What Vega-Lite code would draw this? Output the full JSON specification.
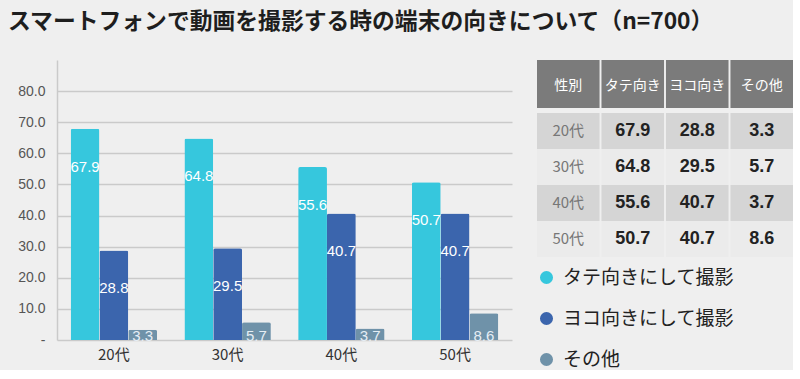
{
  "$schema": "https://vega.github.io/schema/vega-lite/v6.json",
  "background": "#efefef",
  "padding": {"left": 8, "top": 11, "right": 0, "bottom": 0},
  "config": {"view": {"stroke": null}, "font": "Noto Sans CJK JP"},
  "title": {
    "text": "スマートフォンで動画を撮影する時の端末の向きについて（n=700）",
    "fontSize": 22.8,
    "font": "Noto Sans CJK JP",
    "fontWeight": "bold",
    "color": "#1e1e1e",
    "anchor": "start",
    "baseline": "top",
    "offset": 26
  },
  "datasets": {
    "main": [
      {"age": "20代", "series": "タテ向きにして撮影", "short": "タテ向き", "value": 67.9},
      {"age": "20代", "series": "ヨコ向きにして撮影", "short": "ヨコ向き", "value": 28.8},
      {"age": "20代", "series": "その他", "short": "その他", "value": 3.3},
      {"age": "30代", "series": "タテ向きにして撮影", "short": "タテ向き", "value": 64.8},
      {"age": "30代", "series": "ヨコ向きにして撮影", "short": "ヨコ向き", "value": 29.5},
      {"age": "30代", "series": "その他", "short": "その他", "value": 5.7},
      {"age": "40代", "series": "タテ向きにして撮影", "short": "タテ向き", "value": 55.6},
      {"age": "40代", "series": "ヨコ向きにして撮影", "short": "ヨコ向き", "value": 40.7},
      {"age": "40代", "series": "その他", "short": "その他", "value": 3.7},
      {"age": "50代", "series": "タテ向きにして撮影", "short": "タテ向き", "value": 50.7},
      {"age": "50代", "series": "ヨコ向きにして撮影", "short": "ヨコ向き", "value": 40.7},
      {"age": "50代", "series": "その他", "short": "その他", "value": 8.6}
    ]
  },
  "resolve": {"scale": {"color": "independent"}, "legend": {"color": "independent"}},
  "spacing": 25,
  "hconcat": [
    {
      "width": 455,
      "height": 280,
      "data": {"name": "main"},
      "encoding": {
        "x": {"field": "age", "type": "nominal", "sort": null, "title": null,
              "scale": {"paddingInner": 0.24, "paddingOuter": 0.12},
              "axis": {"domain": false, "ticks": false, "labelAngle": 0, "labelPadding": 7, "labelFontSize": 15, "labelColor": "#333", "labelFont": "Noto Sans CJK JP", "zindex": 1}},
        "xOffset": {"field": "series", "type": "nominal", "scale": {"domain": ["タテ向きにして撮影", "ヨコ向きにして撮影", "その他"], "paddingInner": 0, "paddingOuter": 0}},
        "y": {"field": "value", "type": "quantitative", "scale": {"domain": [0, 90], "nice": false}, "title": null,
              "axis": {"values": [0, 10, 20, 30, 40, 50, 60, 70, 80], "labelOverlap": false, "minExtent": 49, "grid": true, "gridColor": "#cacaca", "gridWidth": 1.5, "domain": true, "domainColor": "#cacaca", "domainWidth": 1.5, "ticks": false, "labelFontSize": 14, "labelFont": "Liberation Sans", "labelColor": "#555", "labelPadding": 12, "labelExpr": "datum.value === 0 ? '-' : format(datum.value, '.1f')"}}
      },
      "layer": [
        {
          "mark": {"type": "bar", "cornerRadiusTopLeft": 2, "cornerRadiusTopRight": 2},
          "encoding": {
            "color": {"field": "series", "type": "nominal", "legend": null,
                      "scale": {"domain": ["タテ向きにして撮影", "ヨコ向きにして撮影", "その他"], "range": ["#36c7dd", "#3b65ad", "#6f92a9"]}}
          }
        },
        {
          "data": {"values": [{"band": "axis"}]},
          "mark": {"type": "bar", "color": "#dcdcdc"},
          "encoding": {
            "x": null,
            "xOffset": null,
            "y": {"datum": 0, "type": "quantitative"},
            "y2": {"datum": -8.4}
          }
        },
        {
          "transform": [{"filter": "datum.short !== 'その他'"}],
          "mark": {"type": "text", "color": "white", "fontSize": 15, "font": "Liberation Sans", "baseline": "middle", "dy": 38},
          "encoding": {
            "text": {"field": "value", "type": "quantitative", "format": ".1f"}
          }
        },
        {
          "transform": [{"filter": "datum.short === 'その他'"}],
          "mark": {"type": "text", "color": "#e6eef5", "fontSize": 15, "font": "Liberation Sans", "baseline": "alphabetic", "dy": 1},
          "encoding": {
            "y": {"datum": 0, "type": "quantitative"},
            "text": {"field": "value", "type": "quantitative", "format": ".1f"}
          }
        }
      ]
    },
    {
      "spacing": 5,
      "vconcat": [
        {
          "width": 256,
          "height": 48,
          "data": {"values": [{"h": "性別"}, {"h": "タテ向き"}, {"h": "ヨコ向き"}, {"h": "その他"}]},
          "encoding": {
            "x": {"field": "h", "type": "nominal", "sort": null, "scale": {"paddingInner": 0.03, "paddingOuter": 0}, "axis": null}
          },
          "layer": [
            {"mark": {"type": "bar", "color": "#7b7b7b"}},
            {"mark": {"type": "text", "color": "white", "fontSize": 14, "font": "Noto Sans CJK JP", "dy": 2}, "encoding": {"text": {"field": "h"}}}
          ]
        },
        {
          "width": 256,
          "height": 144,
          "data": {"name": "main"},
          "encoding": {
            "y": {"field": "age", "type": "nominal", "sort": null, "scale": {"paddingInner": 0, "paddingOuter": 0}, "axis": null}
          },
          "layer": [
            {
              "transform": [{"filter": "datum.short === 'タテ向き'"}],
              "mark": "bar",
              "encoding": {
                "x": {"datum": "性別", "type": "nominal", "scale": {"domain": ["性別", "タテ向き", "ヨコ向き", "その他"], "paddingInner": 0.03, "paddingOuter": 0}, "axis": null},
                "fill": {"condition": {"test": "datum.age === '20代' || datum.age === '40代'", "value": "#d5d5d5"}, "value": "#ebebeb"}
              }
            },
            {
              "mark": "bar",
              "encoding": {
                "x": {"field": "short", "type": "nominal", "scale": {"domain": ["性別", "タテ向き", "ヨコ向き", "その他"], "paddingInner": 0.03, "paddingOuter": 0}, "axis": null},
                "fill": {"condition": {"test": "datum.age === '20代' || datum.age === '40代'", "value": "#d5d5d5"}, "value": "#ebebeb"}
              }
            },
            {
              "transform": [{"filter": "datum.short === 'タテ向き'"}],
              "mark": {"type": "text", "fontSize": 15, "color": "#777777", "font": "Noto Sans CJK JP"},
              "encoding": {
                "x": {"datum": "性別", "type": "nominal"},
                "text": {"field": "age"}
              }
            },
            {
              "mark": {"type": "text", "fontSize": 18, "fontWeight": "bold", "color": "#222222", "font": "Liberation Sans"},
              "encoding": {
                "x": {"field": "short", "type": "nominal"},
                "text": {"field": "value", "type": "quantitative", "format": ".1f"}
              }
            },
            {
              "mark": {"type": "circle", "opacity": 0},
              "encoding": {
                "x": {"field": "short", "type": "nominal"},
                "color": {"field": "series", "type": "nominal",
                          "scale": {"domain": ["タテ向きにして撮影", "ヨコ向きにして撮影", "その他"], "range": ["#36c7dd", "#3b65ad", "#6f92a9"]},
                          "legend": {"orient": "bottom", "direction": "vertical", "title": null, "symbolType": "circle", "symbolSize": 170, "symbolOpacity": 1, "symbolStrokeWidth": 0, "labelFontSize": 19, "labelLimit": 300, "labelFont": "Noto Sans CJK JP", "labelColor": "#222", "rowPadding": 21, "labelOffset": 7, "offset": 11, "padding": 0}}
              }
            }
          ]
        }
      ]
    }
  ]
}
